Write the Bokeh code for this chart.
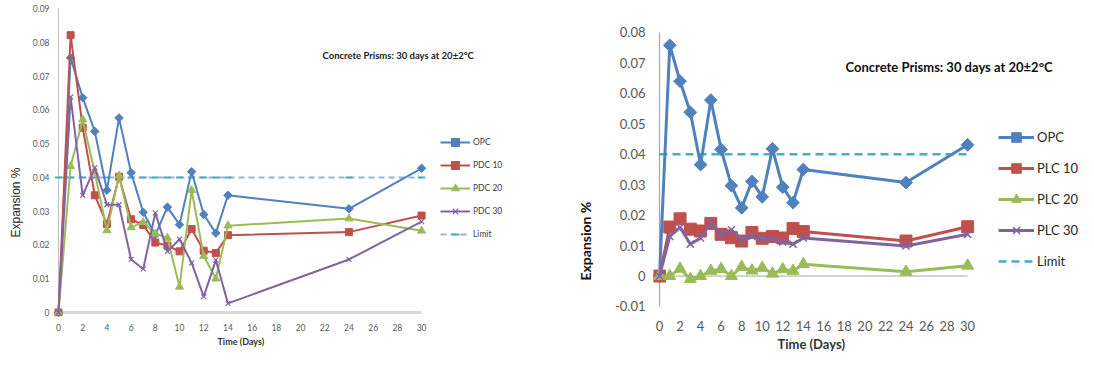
import math
from bokeh.plotting import figure
from bokeh.models import Legend, LegendItem, Label, FixedTicker, Title
from bokeh.layouts import row
from bokeh.embed import file_html
from bokeh.resources import INLINE

# ---------------- data ----------------
days = [0, 1, 2, 3, 4, 5, 6, 7, 8, 9, 10, 11, 12, 13, 14, 24, 30]
x_ticks = [0, 2, 4, 6, 8, 10, 12, 14, 16, 18, 20, 22, 24, 26, 28, 30]

# Left panel: PDC blends
pdc_names = ["OPC", "PDC 10", "PDC 20", "PDC 30"]
pdc_opc = [0, 0.0754, 0.0636, 0.0536, 0.0362, 0.0576, 0.0414, 0.0297, 0.023, 0.0312,
           0.026, 0.0417, 0.029, 0.0235, 0.0347, 0.0307, 0.0427]
pdc_10 = [0, 0.0821, 0.0547, 0.0347, 0.0262, 0.0402, 0.0276, 0.0259, 0.0207, 0.0198,
          0.0181, 0.0247, 0.0183, 0.0176, 0.0229, 0.0238, 0.0287]
pdc_20 = [0, 0.0433, 0.0571, 0.0414, 0.0243, 0.0405, 0.0252, 0.0267, 0.0233, 0.0221,
          0.0076, 0.0362, 0.0167, 0.0100, 0.0257, 0.0278, 0.0242]
pdc_30 = [0, 0.0638, 0.0347, 0.0429, 0.0319, 0.0319, 0.0157, 0.0129, 0.0295, 0.0181,
          0.0217, 0.0147, 0.0047, 0.0155, 0.0027, 0.0157, 0.0269]
limit_left = [0.04, 0.04, 0.04, 0.04, 0.04, 0.04, 0.04, 0.04, 0.04, 0.04,
              0.04, 0.04, 0.04, 0.04, 0.04, 0.04, 0.04]
left_y_ticks = [0, 0.01, 0.02, 0.03, 0.04, 0.05, 0.06, 0.07, 0.08, 0.09]
left_y_labels = ["0", "0.01", "0.02", "0.03", "0.04", "0.05", "0.06", "0.07", "0.08", "0.09"]

# Right panel: PLC blends
plc_names = ["OPC", "PLC 10", "PLC 20", "PLC 30"]
plc_opc = [0, 0.0758, 0.064, 0.0538, 0.0366, 0.0578, 0.0416, 0.0297, 0.0224, 0.0311,
           0.026, 0.0418, 0.0292, 0.0241, 0.0350, 0.0307, 0.0431]
plc_10 = [0, 0.0161, 0.0188, 0.0154, 0.0148, 0.0173, 0.0137, 0.0126, 0.0115, 0.0143,
          0.0124, 0.013, 0.0125, 0.0156, 0.0146, 0.0115, 0.0162]
plc_20 = [0, 0.0, 0.0024, -0.001, 0.0, 0.0017, 0.0023, 0.0, 0.003, 0.0018,
          0.0027, 0.0008, 0.0022, 0.0017, 0.0039, 0.0014, 0.0034]
plc_30 = [0, 0.013, 0.016, 0.0105, 0.0125, 0.0175, 0.0137, 0.0152, 0.0121, 0.013,
          0.0123, 0.0122, 0.0112, 0.0105, 0.0125, 0.0099, 0.0137]
limit_right = [0.04, 0.04, 0.04, 0.04, 0.04, 0.04, 0.04, 0.04, 0.04, 0.04,
               0.04, 0.04, 0.04, 0.04, 0.04, 0.04, 0.04]
right_y_ticks = [-0.01, 0, 0.01, 0.02, 0.03, 0.04, 0.05, 0.06, 0.07, 0.08]
right_y_labels = ["-0.01", "0", "0.01", "0.02", "0.03", "0.04", "0.05", "0.06", "0.07", "0.08"]

title_text = "Concrete Prisms: 30 days at 20\u00b12\u00b0C"
x_title = "Time (Days)"
y_title = "Expansion %"

# ---------------- styles ----------------
COLORS = ["#4F81BD", "#C0504D", "#9BBB59", "#8064A2"]
FONT = "Lato"
TICK_COLOR = "#595959"


def style_axes(p, yticks, ylabels, tick_size, xstand, ystand):
    p.outline_line_color = None
    p.xgrid.grid_line_color = None
    p.ygrid.grid_line_color = None
    for ax in (p.xaxis[0], p.yaxis[0]):
        ax.axis_line_color = None
        ax.major_tick_line_color = None
        ax.minor_tick_line_color = None
        ax.major_tick_in = 0
        ax.major_tick_out = 0
        ax.minor_tick_in = 0
        ax.minor_tick_out = 0
        ax.major_label_text_font = FONT
        ax.major_label_text_font_size = tick_size
        ax.major_label_text_color = TICK_COLOR
    p.xaxis[0].ticker = FixedTicker(ticks=x_ticks)
    p.yaxis[0].ticker = FixedTicker(ticks=yticks)
    p.yaxis[0].major_label_overrides = {t: s for t, s in zip(yticks, ylabels)}
    p.xaxis[0].major_label_standoff = xstand
    p.yaxis[0].major_label_standoff = ystand


# ================= LEFT PANEL =================
L = figure(width=555, height=351, x_range=(-0.496, 40.9), y_range=(-0.001184, 0.091776),
           output_backend="svg", toolbar_location=None,
           min_border_left=52, min_border_right=2, min_border_top=2, min_border_bottom=35)
style_axes(L, left_y_ticks, left_y_labels, "8.5px", 7, 3)
L.add_layout(Title(text=x_title, align="left", offset=165, standoff=1,
                   text_font=FONT, text_font_size="9px", text_font_style="bold",
                   text_color="#333333"), "below")
L.add_layout(Title(text=y_title, align="left", offset=79, standoff=13,
                   text_font="Liberation Sans", text_font_size="12px",
                   text_font_style="normal", text_color="#222222"), "left")

# axis lines
L.segment(x0=[days[0]], y0=[left_y_ticks[0]], x1=[days[0]], y1=[left_y_ticks[-1]],
          line_color="#BFBFBF", line_width=1)
L.segment(x0=[days[0]], y0=[left_y_ticks[0]], x1=[days[-1]], y1=[left_y_ticks[0]],
          line_color="#D9D9D9", line_width=3)

items = []
lim_line = L.line(days, limit_left, line_color="#95B3D7", line_width=2, line_dash="6 4")
lim_mark = L.scatter(days, limit_left, marker="dash", size=7, line_color="#4BACC6", line_width=2)

left_series = [pdc_opc, pdc_10, pdc_20, pdc_30]
for i, (name, ys) in enumerate(zip(pdc_names, left_series)):
    c = COLORS[i]
    ln = L.line(days, ys, line_color=c, line_width=2)
    if i == 0:
        mk = L.scatter(days, ys, marker="square", angle=math.pi / 4, size=6, fill_color=c, line_color=c)
    elif i == 1:
        mk = L.scatter(days, ys, marker="square", size=7, fill_color=c, line_color=c)
    elif i == 2:
        mk = L.scatter(days, ys, marker="triangle", size=8, fill_color=c, line_color=c)
    else:
        mk = L.scatter(days, ys, marker="x", size=7, line_color=c, line_width=1.2)
    items.append(LegendItem(label=name, renderers=[ln, mk]))
items.append(LegendItem(label="Limit", renderers=[lim_line, lim_mark]))

legL = Legend(items=items, location=(388, 72), orientation="vertical",
              glyph_width=30, glyph_height=20, label_height=20, spacing=3,
              padding=0, margin=0, border_line_color=None, background_fill_alpha=0,
              label_text_font=FONT, label_text_font_size="8.5px",
              label_text_color="#404040", label_standoff=3)
L.add_layout(legL)

L.add_layout(Label(x=270, y=261, x_units="screen", y_units="screen", text=title_text,
                   text_font=FONT, text_font_size="9.5px", text_font_style="bold",
                   text_color="#222222", text_baseline="middle"))

# ================= RIGHT PANEL =================
R = figure(width=531, height=351, x_range=(-0.584, 41.38), y_range=(-0.013285, 0.089854),
           output_backend="svg", toolbar_location=None,
           min_border_left=98, min_border_right=2, min_border_top=2, min_border_bottom=35)
style_axes(R, right_y_ticks, right_y_labels, "13px", 4, 8)
R.add_layout(Title(text=x_title, align="left", offset=124, standoff=0,
                   text_font=FONT, text_font_size="13px", text_font_style="bold",
                   text_color="#333333"), "below")
R.add_layout(Title(text=y_title, align="left", offset=36, standoff=36,
                   text_font=FONT, text_font_size="14px", text_font_style="bold",
                   text_color="#111111"), "left")

R.segment(x0=[days[0]], y0=[right_y_ticks[0]], x1=[days[0]], y1=[right_y_ticks[-1]],
          line_color="#A6A6A6", line_width=1.2)
R.segment(x0=[days[0]], y0=[0], x1=[days[-1]], y1=[0],
          line_color="#A6A6A6", line_width=1)

itemsR = []
lim_r = R.line(days, limit_right, line_color="#4BACC6", line_width=2.5, line_dash="8 5")
right_series = [plc_opc, plc_10, plc_20, plc_30]
for i, (name, ys) in enumerate(zip(plc_names, right_series)):
    c = COLORS[i]
    ln = R.line(days, ys, line_color=c, line_width=3)
    if i == 0:
        mk = R.scatter(days, ys, marker="square", angle=math.pi / 4, size=9, fill_color=c, line_color=c)
    elif i == 1:
        mk = R.scatter(days, ys, marker="square", size=12, fill_color=c, line_color=c)
    elif i == 2:
        mk = R.scatter(days, ys, marker="triangle", size=12, fill_color=c, line_color=c)
    else:
        mk = R.scatter(days, ys, marker="x", size=10, line_color=c, line_width=1.5)
    itemsR.append(LegendItem(label=name, renderers=[ln, mk]))
itemsR.append(LegendItem(label="Limit", renderers=[lim_r]))

legR = Legend(items=itemsR, location=(345, 43), orientation="vertical",
              glyph_width=36, glyph_height=24, label_height=24, spacing=7,
              padding=0, margin=0, border_line_color=None, background_fill_alpha=0,
              label_text_font=FONT, label_text_font_size="13px",
              label_text_color="#262626", label_standoff=3)
R.add_layout(legR)

R.add_layout(Label(x=192, y=250, x_units="screen", y_units="screen", text=title_text,
                   text_font=FONT, text_font_size="13px", text_font_style="bold",
                   text_color="#111111", text_baseline="middle"))

layout = row(L, R)
open("out.html", "w").write(file_html(layout, INLINE))
